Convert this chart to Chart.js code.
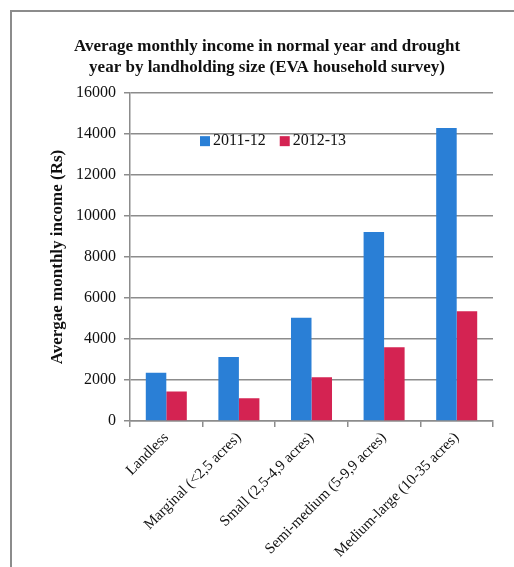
<!DOCTYPE html>
<html>
<head>
<meta charset="utf-8">
<script src="https://cdn.jsdelivr.net/npm/chart.js@4/dist/chart.umd.min.js"></script>
<style>
  html, body { margin: 0; padding: 0; background: #fff; overflow: hidden; }
  #frame { position: absolute; left: 10px; top: 10px; width: 600px; height: 600px; border: 2.5px solid #8c8c8c; }
  #wrap { position: absolute; left: 0; top: 0; width: 514px; height: 567px; }
</style>
</head>
<body>
<div id="frame"></div>
<div id="wrap"><canvas id="chart" width="514" height="567"></canvas></div>
<script>
// data
const categories = [
  "Landless",
  "Marginal (<2,5 acres)",
  "Small (2,5-4,9 acres)",
  "Semi-medium (5-9,9 acres)",
  "Medium-large (10-35 acres)"
];
const seriesNames = ["2011-12", "2012-13"];
const income2011 = [2350, 3120, 5040, 9220, 14300];
const income2012 = [1430, 1110, 2130, 3600, 5350];
const yTicksMax = 16000;
const yTickStep = 2000;

const GRID = "#8c8c8c";
const FONT = "'Liberation Serif', 'DejaVu Serif', serif";

// legend drawn inside the plot, like the original
const insideLegend = {
  id: "insideLegend",
  afterDraw(chart) {
    const ctx = chart.ctx;
    const a = chart.chartArea;
    let x = a.left + 70;
    const y = a.top + 48;
    ctx.save();
    ctx.font = "16px " + FONT;
    ctx.textBaseline = "middle";
    chart.data.datasets.forEach(ds => {
      ctx.fillStyle = ds.backgroundColor;
      ctx.fillRect(x, y - 5, 10, 10);
      ctx.fillStyle = "#111";
      ctx.fillText(ds.label, x + 13, y);
      x += 13 + ctx.measureText(ds.label).width + 14;
    });
    ctx.restore();
  }
};

new Chart(document.getElementById("chart"), {
  type: "bar",
  data: {
    labels: categories,
    datasets: [
      { label: seriesNames[0], data: income2011, backgroundColor: "#2a7fd6", barPercentage: 1, categoryPercentage: 0.565 },
      { label: seriesNames[1], data: income2012, backgroundColor: "#d42352", barPercentage: 1, categoryPercentage: 0.565 }
    ]
  },
  options: {
    responsive: false,
    animation: false,
    layout: { padding: { left: 41, right: 21, top: 0, bottom: 4 } },
    plugins: {
      legend: { display: false },
      tooltip: { enabled: false },
      title: {
        display: true,
        text: ["Average monthly income in normal year and drought", "year by landholding size (EVA household survey)"],
        color: "#111",
        font: { family: FONT, size: 17, weight: "bold", lineHeight: 1.24 },
        padding: { top: 36, bottom: 15 }
      }
    },
    scales: {
      x: {
        offset: true,
        grid: { display: true, drawOnChartArea: false, color: GRID, lineWidth: 1.5, tickLength: 6 },
        border: { color: GRID, width: 1.5 },
        ticks: { color: "#111", font: { family: FONT, size: 15 }, minRotation: 45, maxRotation: 45, autoSkip: false, padding: 2 }
      },
      y: {
        min: 0,
        max: yTicksMax,
        afterFit(scale) { scale.width = 89; },
        grid: { color: GRID, lineWidth: 1.5, tickLength: 6 },
        border: { color: GRID, width: 1.5 },
        ticks: { stepSize: yTickStep, color: "#111", font: { family: FONT, size: 16 }, padding: 8, callback: v => String(v) },
        title: {
          display: true,
          text: "Avergae monthly income (Rs)",
          color: "#111",
          font: { family: FONT, size: 17, weight: "bold" },
          padding: { top: 6, bottom: 0 }
        }
      }
    }
  },
  plugins: [insideLegend]
});
</script>
</body>
</html>
